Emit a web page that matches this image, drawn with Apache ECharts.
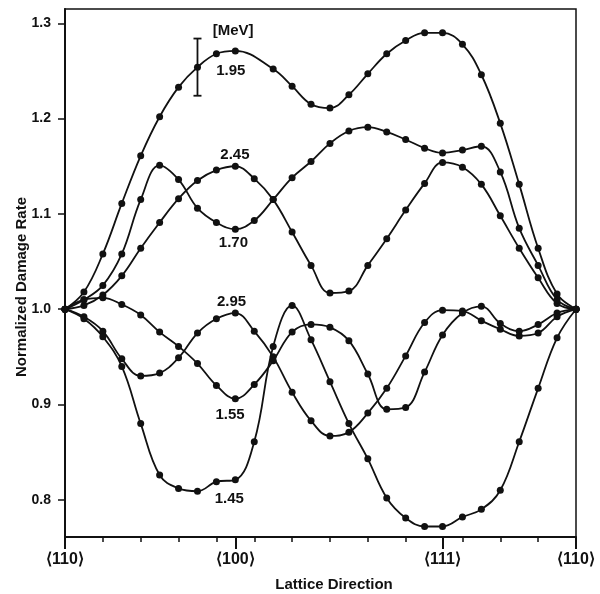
<!DOCTYPE html>
<html>
<head>
<meta charset="utf-8">
<script src="https://cdn.jsdelivr.net/npm/echarts@6/dist/echarts.min.js"></script>
<style>
  html, body { margin: 0; padding: 0; background: #fff; }
  #chart { width: 600px; height: 594px; }
</style>
</head>
<body>
<div id="chart"></div>
<script>
// angle along the path <110> -> <100> -> <111> -> <110>, degrees
const angles = [0, 5, 10, 15, 20, 25, 30, 35, 40, 45, 50, 55, 60, 65, 70, 75, 80, 85, 90, 95, 99.74, 105, 110, 115, 120, 125, 130, 135]

const rate195 = [1.000, 1.018, 1.058, 1.111, 1.161, 1.202, 1.233, 1.254, 1.268, 1.271, null, 1.252, 1.234, 1.215, 1.211, 1.225, 1.247, 1.268, 1.282, 1.290, 1.290, 1.278, 1.246, 1.195, 1.131, 1.064, 1.016, 1.000]
const rate245 = [1.000, 1.004, 1.015, 1.035, 1.064, 1.091, 1.116, 1.135, 1.146, 1.150, 1.137, 1.115, 1.081, 1.046, 1.017, 1.019, 1.046, 1.074, 1.104, 1.132, 1.154, 1.149, 1.131, 1.098, 1.064, 1.033, 1.006, 1.000]
const rate170 = [1.000, 1.010, 1.025, 1.058, 1.115, 1.151, 1.136, 1.106, 1.091, 1.084, 1.093, 1.115, 1.138, 1.155, 1.174, 1.187, 1.191, 1.186, 1.178, 1.169, 1.164, 1.167, 1.171, 1.144, 1.085, 1.046, 1.010, 1.000]
const rate295 = [1.000, 0.992, 0.977, 0.948, 0.930, 0.933, 0.949, 0.975, 0.990, 0.996, 0.977, 0.950, 0.913, 0.883, 0.867, 0.871, 0.891, 0.917, 0.951, 0.986, 0.999, 0.998, 0.988, 0.979, 0.972, 0.975, 0.992, 1.000]
const rate155 = [1.000, 1.010, 1.012, 1.005, 0.994, 0.976, 0.961, 0.943, 0.920, 0.906, 0.921, 0.946, 0.976, 0.984, 0.981, 0.967, 0.932, 0.895, 0.897, 0.934, 0.973, 0.996, 1.003, 0.985, 0.977, 0.984, 0.996, 1.000]
const rate145 = [1.000, 0.990, 0.971, 0.940, 0.880, 0.826, 0.812, 0.809, 0.819, 0.821, 0.861, 0.961, 1.004, 0.968, 0.924, 0.880, 0.843, 0.802, 0.781, 0.772, 0.772, 0.782, 0.790, 0.810, 0.861, 0.917, 0.970, 1.000]

const curves = [rate195, rate245, rate170, rate295, rate155, rate145]

const dirTicks = [0, 45, 99.74, 135]
const dirLabels = ['⟨110⟩', '⟨100⟩', '⟨111⟩', '⟨110⟩']
const minorTicks = [10, 20, 30, 40, 50, 60, 70, 80, 90, 105, 115, 125]
const yTicks = [0.8, 0.9, 1.0, 1.1, 1.2, 1.3]

// energy notes, placed in data units
const noteText = ['[MeV]', '1.95', '2.45', '1.70', '2.95', '1.55', '1.45']
const noteX = [44.4, 43.8, 44.9, 44.5, 44.0, 43.6, 43.4]
const noteY = [1.292, 1.2506, 1.162, 1.0695, 1.008, 0.889, 0.801]

// typical error: [angle, low, high]
const errorBar = [35, 1.224, 1.284]

const ink = '#111'
const font = 'Liberation Sans, Arial, sans-serif'

const chart = echarts.init(document.getElementById('chart'), null, { renderer: 'canvas' })

const lineSeries = curves.map(values => ({
  type: 'line',
  data: angles.map((a, i) => [a, values[i]]),
  smooth: 0.4,
  connectNulls: true,
  symbol: 'circle',
  symbolSize: 7,
  lineStyle: { color: ink, width: 1.8 },
  itemStyle: { color: ink },
  silent: true,
  z: 3
}))

const option = {
  animation: false,
  backgroundColor: '#fff',
  grid: {
    left: 65,
    right: 24,
    top: 9,
    bottom: 57,
    show: true,
    borderColor: ink,
    borderWidth: 1.5
  },
  xAxis: [
    {
      type: 'value',
      min: 0,
      max: 135,
      axisLine: { show: true, lineStyle: { color: ink, width: 2 } },
      axisTick: { show: true, customValues: dirTicks, length: 12, lineStyle: { color: ink, width: 2 } },
      axisLabel: {
        customValues: dirTicks,
        formatter: v => dirLabels[dirTicks.indexOf(v)],
        color: ink,
        fontSize: 16,
        fontWeight: 'bold',
        fontFamily: font,
        margin: 15
      },
      splitLine: { show: false }
    },
    {
      type: 'value',
      min: 0,
      max: 135,
      position: 'bottom',
      axisLine: { show: false },
      axisTick: { show: true, customValues: minorTicks, length: 5, lineStyle: { color: ink, width: 1.5 } },
      axisLabel: { show: false },
      splitLine: { show: false }
    }
  ],
  yAxis: {
    type: 'value',
    min: 0.761,
    max: 1.315,
    axisLine: { show: true, lineStyle: { color: ink, width: 2 } },
    axisTick: { show: true, customValues: yTicks, length: 7, lineStyle: { color: ink, width: 1.5 } },
    axisLabel: {
      customValues: yTicks,
      formatter: v => v.toFixed(1),
      color: ink,
      fontSize: 14,
      fontWeight: 'bold',
      fontFamily: font,
      margin: 14
    },
    splitLine: { show: false }
  },
  graphic: [
    {
      type: 'text',
      x: 334,
      y: 585,
      style: {
        text: 'Lattice Direction',
        fill: ink,
        font: 'bold 15px ' + font,
        textAlign: 'center',
        textVerticalAlign: 'middle'
      }
    },
    {
      type: 'text',
      x: 22,
      y: 287,
      rotation: Math.PI / 2,
      style: {
        text: 'Normalized Damage Rate',
        fill: ink,
        font: 'bold 15px ' + font,
        textAlign: 'center',
        textVerticalAlign: 'middle'
      }
    }
  ],
  series: [
    ...lineSeries,
    {
      type: 'custom',
      silent: true,
      data: [errorBar],
      renderItem: (params, api) => {
        const top = api.coord([api.value(0), api.value(2)])
        const bot = api.coord([api.value(0), api.value(1)])
        const style = { stroke: ink, lineWidth: 1.8 }
        return {
          type: 'group',
          children: [
            { type: 'line', shape: { x1: top[0], y1: top[1], x2: bot[0], y2: bot[1] }, style },
            { type: 'line', shape: { x1: top[0] - 4, y1: top[1], x2: top[0] + 4, y2: top[1] }, style },
            { type: 'line', shape: { x1: bot[0] - 4, y1: bot[1], x2: bot[0] + 4, y2: bot[1] }, style }
          ]
        }
      },
      z: 4
    },
    {
      type: 'scatter',
      silent: true,
      symbolSize: 0,
      itemStyle: { color: ink, opacity: 1 },
      data: noteText.map((t, i) => [noteX[i], noteY[i], t]),
      label: {
        show: true,
        position: 'inside',
        formatter: p => p.data[2],
        color: ink,
        textBorderWidth: 0,
        fontSize: 15,
        fontWeight: 'bold',
        fontFamily: font
      },
      z: 5
    }
  ]
}

chart.setOption(option)
</script>
</body>
</html>
